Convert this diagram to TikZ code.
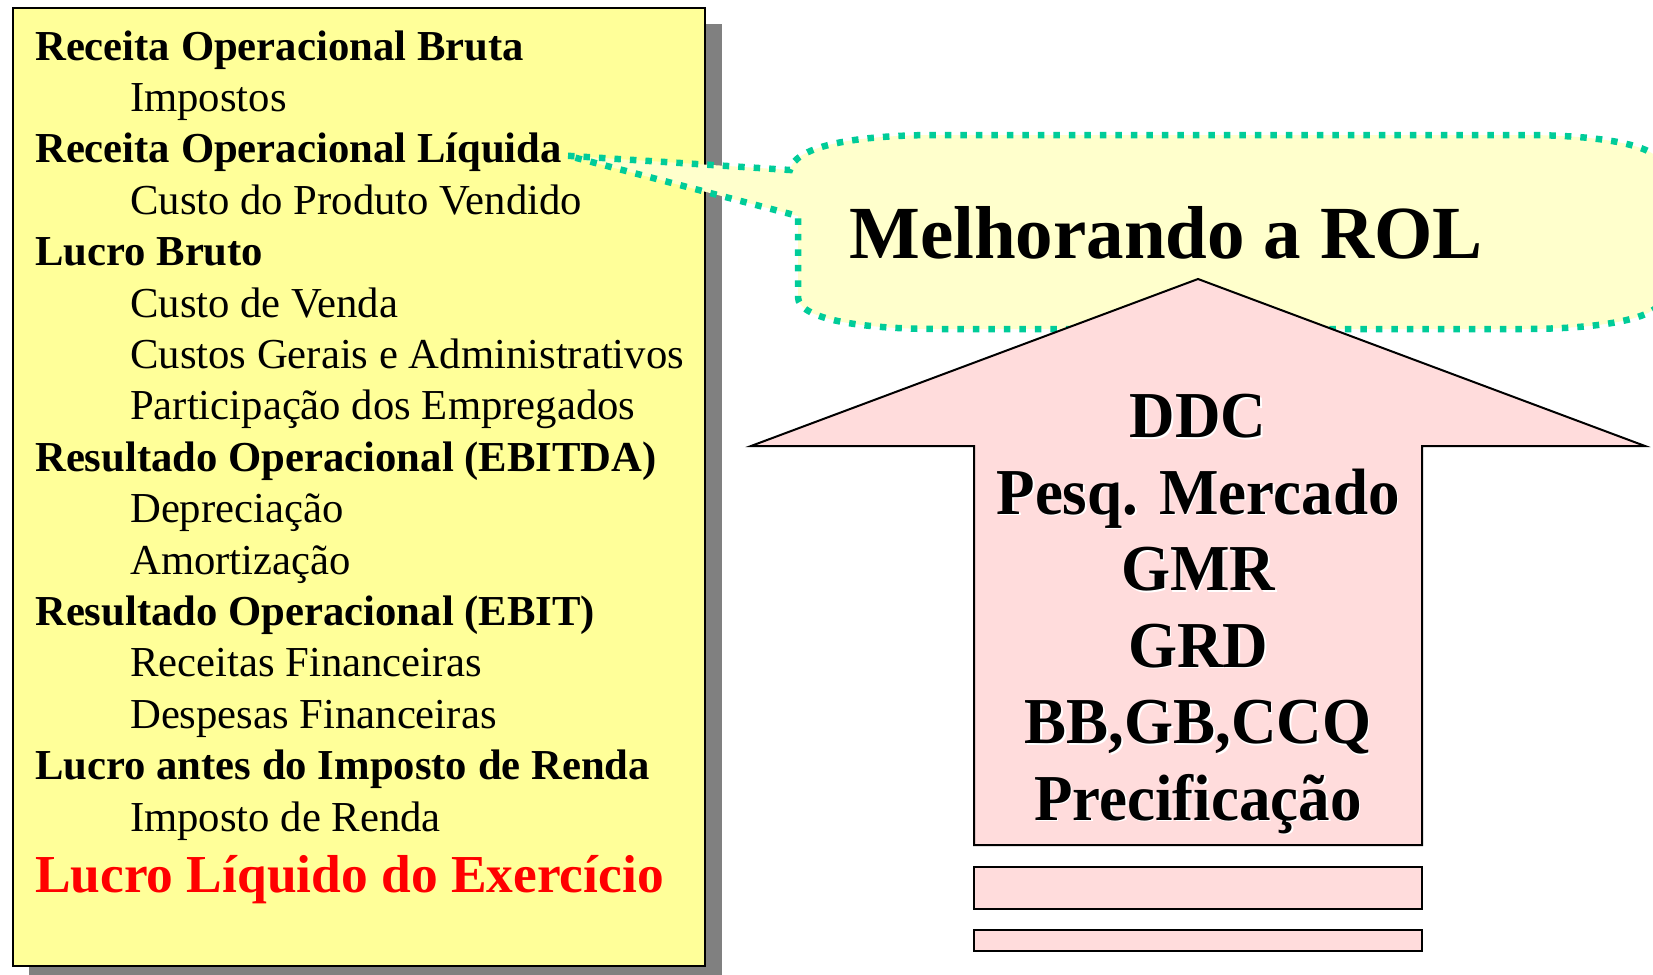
\documentclass[tikz,border=0pt]{standalone}
\usepackage{fontspec}
\setmainfont{Liberation Serif}
\usepackage{graphicx}
\definecolor{boxyellow}{HTML}{FFFF99}
\definecolor{calloutyellow}{HTML}{FFFFCC}
\definecolor{tealdot}{HTML}{00CC99}
\definecolor{arrowpink}{HTML}{FFDCDC}
\definecolor{shadowgray}{HTML}{808080}
\begin{document}
\begin{tikzpicture}[x=1pt,y=-1pt,
  boldrow/.style={anchor=base west, inner sep=0pt, font=\fontsize{42.7}{50}\selectfont\bfseries},
  subrow/.style={anchor=base west, inner sep=0pt, font=\fontsize{42.7}{50}\selectfont},
  redrow/.style={anchor=base west, inner sep=0pt, text=red, font=\fontsize{53.4}{60}\selectfont\bfseries},
  arrowtext/.style={anchor=base, inner sep=0pt, font=\fontsize{63}{70}\selectfont\bfseries},
  dotborder/.style={draw=tealdot, line width=6.5pt, dash pattern=on 6.5pt off 9pt},
  pinkbox/.style={draw=black, line width=2pt, fill=arrowpink}]
\clip (0,0) rectangle (1653,974);
\fill[white] (0,0) rectangle (1653,974);
% left panel
\fill[shadowgray] (29,24) rectangle (722,982);
\draw[line width=2pt, fill=boxyellow] (13,8) rectangle (705,966);
\node[boldrow] (r0) at (35,60) {Receita Operacional Bruta};
\node[subrow]  (r1) at (130,111.4) {Impostos};
\node[boldrow] (r2) at (35,162.8) {Receita Operacional Líquida};
\node[subrow]  (r3) at (130,214.2) {Custo do Produto Vendido};
\node[boldrow] (r4) at (35,265.6) {Lucro Bruto};
\node[subrow]  (r5) at (130,317) {Custo de Venda};
\node[subrow]  (r6) at (130,368.4) {Custos Gerais e Administrativos};
\node[subrow]  (r7) at (130,419.8) {Participação dos Empregados};
\node[boldrow] (r8) at (35,471.2) {Resultado Operacional (EBITDA)};
\node[subrow]  (r9) at (130,522.6) {Depreciação};
\node[subrow]  (r10) at (130,574) {Amortização};
\node[boldrow] (r11) at (35,625.4) {Resultado Operacional (EBIT)};
\node[subrow]  (r12) at (130,676.8) {Receitas Financeiras};
\node[subrow]  (r13) at (130,728.2) {Despesas Financeiras};
\node[boldrow] (r14) at (35,779.6) {Lucro antes do Imposto de Renda};
\node[subrow]  (r15) at (130,831) {Imposto de Renda};
\node[redrow]  (r16) at (35,892) {Lucro Líquido do Exercício};
% callout
\coordinate (tip) at ([xshift=6pt,yshift=7pt]r2.base east);
\path[dotborder, fill=calloutyellow]
  (tip) -- (790,170) .. controls (795,145) and (860,135) .. (938,135)
  -- (1522,135) .. controls (1600,135) and (1662,145) .. (1662,167)
  -- (1662,297) .. controls (1662,319) and (1600,329) .. (1522,329)
  -- (938,329) .. controls (860,329) and (798,319) .. (798,297)
  -- (798,216) -- cycle;
\node[anchor=base, inner sep=0pt, font=\fontsize{75}{80}\selectfont\bfseries] (title) at (1166,258) {Melhorando a ROL};
% arrow
\draw[pinkbox, line join=miter]
  (1198,279) -- (1645,446) -- (1422,446) -- (1422,845) -- (974,845) -- (974,446) -- (751,446) -- cycle;
\draw[pinkbox] (974,867) rectangle (1422,909);
\draw[pinkbox] (974,930) rectangle (1422,951);
\foreach \t [count=\i from 0] in {DDC,Pesq. Mercado,GMR,GRD,{BB,GB,CCQ},Precificação}{
  \node[arrowtext, text=white] at (1199.5,439+76.5*\i) {\scalebox{1}[1.04]{\t}};
  \node[arrowtext] (a\i) at (1198,437.5+76.5*\i) {\scalebox{1}[1.04]{\t}};
}
\end{tikzpicture}
\end{document}
